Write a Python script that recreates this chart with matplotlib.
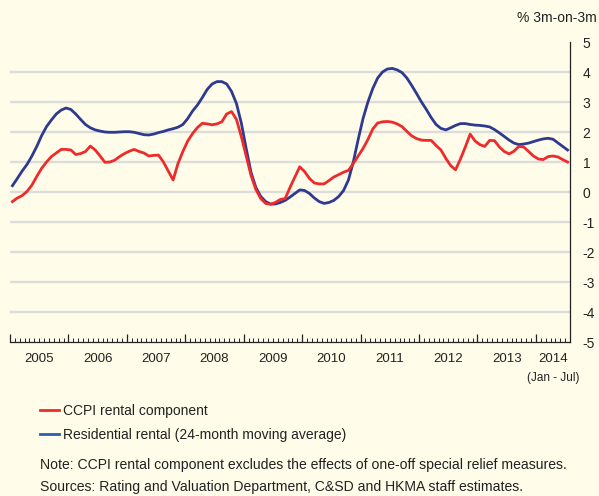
import matplotlib
matplotlib.use("Agg")
import matplotlib.pyplot as plt
from matplotlib.lines import Line2D
import numpy as np

# Monthly data, Jan 2005 - Jul 2014 (% 3m-on-3m)
ccpi_rental = [
    -0.32, -0.20, -0.12, 0.02, 0.23, 0.52, 0.79, 1.00, 1.18, 1.30, 1.42, 1.42,   # 2005
    1.40, 1.25, 1.28, 1.35, 1.53, 1.40, 1.20, 0.99, 1.00, 1.06, 1.18, 1.28,      # 2006
    1.36, 1.42, 1.35, 1.30, 1.20, 1.22, 1.23, 1.00, 0.70, 0.40, 0.95, 1.35,      # 2007
    1.70, 1.95, 2.15, 2.29, 2.27, 2.24, 2.27, 2.34, 2.60, 2.68, 2.42, 1.85,      # 2008
    1.20, 0.55, 0.08, -0.22, -0.38, -0.41, -0.35, -0.25, -0.22, 0.15, 0.50, 0.84, # 2009
    0.68, 0.45, 0.30, 0.27, 0.27, 0.38, 0.50, 0.58, 0.66, 0.72, 0.95, 1.20,      # 2010
    1.45, 1.75, 2.10, 2.30, 2.34, 2.35, 2.33, 2.27, 2.18, 2.02, 1.87, 1.78,      # 2011
    1.73, 1.72, 1.72, 1.55, 1.40, 1.12, 0.88, 0.74, 1.10, 1.50, 1.93, 1.70,      # 2012
    1.58, 1.52, 1.72, 1.71, 1.50, 1.35, 1.27, 1.36, 1.52, 1.50, 1.35, 1.20,      # 2013
    1.10, 1.08, 1.18, 1.20, 1.17, 1.08, 1.00,                                    # 2014 Jan-Jul
]
residential_rental = [
    0.21, 0.45, 0.70, 0.92, 1.20, 1.52, 1.88, 2.18, 2.40, 2.60, 2.73, 2.80,      # 2005
    2.75, 2.60, 2.42, 2.25, 2.14, 2.07, 2.03, 2.00, 1.99, 1.99, 2.00, 2.01,      # 2006
    2.01, 1.99, 1.95, 1.91, 1.90, 1.93, 1.98, 2.02, 2.07, 2.11, 2.16, 2.25,      # 2007
    2.45, 2.70, 2.90, 3.15, 3.42, 3.60, 3.68, 3.68, 3.60, 3.35, 2.95, 2.30,      # 2008
    1.45, 0.65, 0.15, -0.15, -0.32, -0.40, -0.40, -0.35, -0.28, -0.17, -0.05, 0.07, # 2009
    0.05, -0.05, -0.20, -0.32, -0.38, -0.35, -0.28, -0.15, 0.05, 0.40, 1.00, 1.75, # 2010
    2.45, 3.00, 3.45, 3.80, 4.00, 4.10, 4.12, 4.07, 3.98, 3.80, 3.55, 3.28,      # 2011
    3.00, 2.75, 2.48, 2.25, 2.12, 2.07, 2.14, 2.22, 2.28, 2.28, 2.25, 2.23,      # 2012
    2.22, 2.20, 2.17, 2.08, 1.97, 1.85, 1.73, 1.63, 1.58, 1.60, 1.63, 1.68,      # 2013
    1.73, 1.77, 1.79, 1.76, 1.64, 1.52, 1.40,                                    # 2014 Jan-Jul
]
years = ["2005", "2006", "2007", "2008", "2009", "2010", "2011", "2012", "2013", "2014"]
y_ticks = [-5, -4, -3, -2, -1, 0, 1, 2, 3, 4, 5]

BG = "#FFFCE9"
RED = "#EE2B2B"
BLUE = "#2E3A8F"

plt.rcParams["font.family"] = ["Liberation Sans", "DejaVu Sans"]
plt.rcParams["axes.unicode_minus"] = False

W, H = 599, 496
fig = plt.figure(figsize=(W / 100, H / 100), dpi=100, facecolor=BG)
ax = fig.add_axes([10 / W, 1 - 342 / H, (570 - 10) / W, (342 - 42) / H])
ax.set_facecolor(BG)

n = len(ccpi_rental)
x = np.arange(n) + 0.5

# gridlines
for v in range(-4, 5):
    ax.axhline(v, color="#DCDDDB", lw=1.7, zorder=1)

ax.plot(x, residential_rental, color=BLUE, lw=2.0, zorder=3, solid_joinstyle="round")
ax.plot(x, ccpi_rental, color=RED, lw=2.0, zorder=4, solid_joinstyle="round")

ax.set_xlim(0, n)
ax.set_ylim(-5, 5)

for s in ["top", "left"]:
    ax.spines[s].set_visible(False)
for s in ["right", "bottom"]:
    ax.spines[s].set_color("#222222")
    ax.spines[s].set_linewidth(0.9)

ax.yaxis.tick_right()
ax.set_yticks(y_ticks)
ax.set_yticklabels([str(v) for v in y_ticks])
ax.tick_params(axis="y", length=0, pad=9, labelsize=10, colors="#222222")

ax.set_xticks(np.arange(0, n, 12))
ax.set_xticks(np.arange(0, n + 1, 1), minor=True)
ax.tick_params(axis="x", which="major", direction="in", length=6, width=0.9,
               color="#222222", labelbottom=False)
ax.tick_params(axis="x", which="minor", direction="in", length=3, width=0.7,
               color="#222222")

trans = ax.get_xaxis_transform()
for k, yr in enumerate(years):
    start = 12 * k
    end = min(12 * (k + 1), n)
    ax.text((start + end) / 2, -0.055, yr, transform=trans, ha="center", va="center",
            fontsize=9.5, color="#222222")
ax.text((108 + n) / 2, -0.12, "(Jan - Jul)", transform=trans, ha="center", va="center",
        fontsize=8.5, color="#222222", stretch="condensed")

fig.text(597 / W, 1 - 18 / H, "% 3m-on-3m", ha="right", va="center", fontsize=10,
         color="#222222")

handles = [Line2D([0], [0], color=RED, lw=2),
           Line2D([0], [0], color="#2F5CB0", lw=2)]
fig.legend(handles, ["CCPI rental component", "Residential rental (24-month moving average)"],
           loc="upper left", bbox_to_anchor=(34 / W, 1 - 398 / H), frameon=False,
           fontsize=10, handlelength=1.4, handletextpad=0.3, labelspacing=0.75,
           borderaxespad=0, labelcolor="#222222")

fig.text(40 / W, 1 - 465 / H,
         "Note: CCPI rental component excludes the effects of one-off special relief measures.",
         ha="left", va="center", fontsize=10.1, color="#222222")
fig.text(40 / W, 1 - 487 / H,
         "Sources: Rating and Valuation Department, C&SD and HKMA staff estimates.",
         ha="left", va="center", fontsize=10.1, color="#222222")

fig.savefig("out.png", dpi=100, facecolor=BG)
